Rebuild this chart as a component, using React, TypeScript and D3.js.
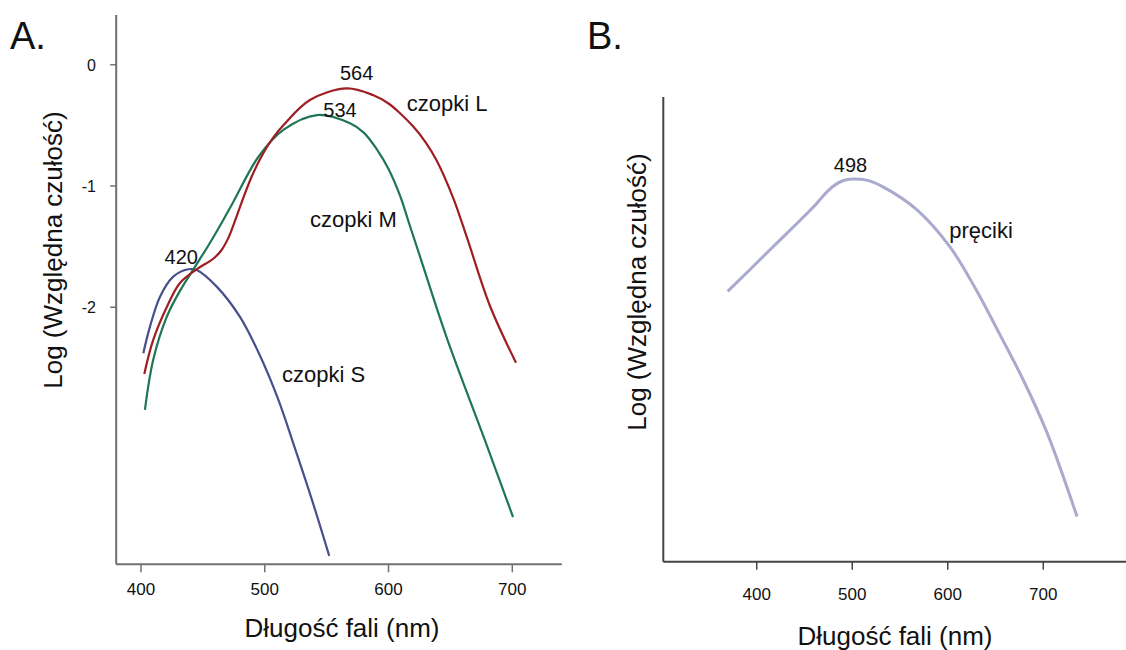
import React from 'react';
import * as d3 from 'd3';

const FONT = '"Liberation Sans", Arial, Helvetica, sans-serif';

// ---------- Data ----------
const xTicksA = [400, 500, 600, 700];
const yTicksA = [0, -1, -2];
const xTicksB = [400, 500, 600, 700];

// L cones (czopki L)
const coneLWavelength = [402.7, 409.9, 420.8, 431.5, 445, 458.4, 465, 471, 477.3, 483, 490, 498.8, 507, 515, 536.5, 566.2, 587.4, 600, 609.3, 620, 630, 638.9, 652.3, 663.2, 682, 703];
const coneLLog = [-2.55, -2.27, -2.0, -1.8, -1.687, -1.6, -1.53, -1.42, -1.25, -1.09, -0.91, -0.73, -0.6, -0.5, -0.291, -0.195, -0.25, -0.32, -0.4, -0.51, -0.64, -0.79, -1.1, -1.42, -1.99, -2.458];

// M cones (czopki M)
const coneMWavelength = [403.2, 409.9, 420.8, 431.5, 445, 455.7, 466.5, 474.6, 494.8, 515, 542.2, 568.9, 580, 590.7, 600, 609.3, 617, 625.4, 647, 678, 700.6];
const coneMLog = [-2.847, -2.434, -2.08, -1.865, -1.645, -1.47, -1.28, -1.132, -0.761, -0.538, -0.415, -0.483, -0.56, -0.7, -0.86, -1.08, -1.32, -1.58, -2.25, -3.1, -3.73];

// S cones (czopki S)
const coneSWavelength = [401.9, 407.3, 415.4, 426.1, 438.2, 445, 461.2, 480, 496.2, 510.9, 523, 537.9, 552.1];
const coneSLog = [-2.379, -2.16, -1.913, -1.748, -1.687, -1.693, -1.83, -2.08, -2.4, -2.76, -3.12, -3.58, -4.05];

// Rods (pręciki)
const rodWavelength = [369.6, 414.5, 459.3, 470, 480, 490, 500.7, 515, 532.2, 567.8, 602.3, 630, 654.7, 678.8, 703.9, 735.3];
const rodLog = [-1.04, -0.695, -0.35, -0.255, -0.18, -0.135, -0.12, -0.13, -0.185, -0.373, -0.676, -1.03, -1.395, -1.76, -2.195, -2.88];

const peakLabelsA = ['564', '534', '420'];
const seriesLabelsA = ['czopki L', 'czopki M', 'czopki S'];
const peakLabelB = '498';
const seriesLabelB = 'pręciki';

const COL_L = '#9e1e22';
const COL_M = '#1f7654';
const COL_S = '#48508c';
const COL_ROD = '#a9aacd';

type P = [number, number];
const zip = (xs: number[], ys: number[]): P[] => xs.map((x, i) => [x, ys[i]]);

export default function App() {
  // Panel A scales
  const xA = d3.scaleLinear().domain([380, 740]).range([116.2, 561.8]);
  const yA = d3.scaleLinear().domain([-4.12, 0.41]).range([564.3, 15]);
  // Panel B scales
  const xB = d3.scaleLinear().domain([302.2, 786.6]).range([663.3, 1126]);
  const yB = d3.scaleLinear().domain([-3.25, 0.55]).range([561.7, 97]);

  const lineA = d3
    .line<P>()
    .x((d) => xA(d[0]))
    .y((d) => yA(d[1]))
    .curve(d3.curveCatmullRom.alpha(0.5));
  const lineB = d3
    .line<P>()
    .x((d) => xB(d[0]))
    .y((d) => yB(d[1]))
    .curve(d3.curveCatmullRom.alpha(0.5));

  const axisA = '#707070';
  const axisB = '#444444';

  return (
    <svg
      width={1126}
      height={650}
      style={{ position: 'absolute', left: 0, top: 0, background: '#fff' }}
      fontFamily={FONT}
    >
      <rect x={0} y={0} width={1126} height={650} fill="#fff" />

      {/* ---------- Panel A ---------- */}
      <text x={10} y={49} fontSize={38} fill="#111">A.</text>

      <line x1={xA(380)} x2={xA(380)} y1={yA(0.41)} y2={yA(-4.12)} stroke={axisA} strokeWidth={2} />
      <line x1={xA(380)} x2={xA(740)} y1={yA(-4.12)} y2={yA(-4.12)} stroke={axisA} strokeWidth={2} />

      {yTicksA.map((t) => (
        <g key={'ya' + t}>
          <line x1={xA(380) - 6} x2={xA(380)} y1={yA(t)} y2={yA(t)} stroke={axisA} strokeWidth={1.5} />
          <text x={96} y={yA(t) + 6} fontSize={16} textAnchor="end" fill="#111">
            {t === 0 ? '0' : String(t)}
          </text>
        </g>
      ))}
      {xTicksA.map((t) => (
        <g key={'xa' + t}>
          <line x1={xA(t)} x2={xA(t)} y1={yA(-4.12)} y2={yA(-4.12) + 8} stroke={axisA} strokeWidth={1.5} />
          <text x={xA(t)} y={595} fontSize={17} textAnchor="middle" fill="#111">
            {t}
          </text>
        </g>
      ))}

      <text x={342} y={636.5} fontSize={26} textAnchor="middle" fill="#111">
        Długość fali (nm)
      </text>
      <text transform={`translate(62,250) rotate(-90)`} fontSize={26} textAnchor="middle" fill="#111">
        Log (Względna czułość)
      </text>

      <path d={lineA(zip(coneSWavelength, coneSLog)) || ''} fill="none" stroke={COL_S} strokeWidth={2.2} />
      <path d={lineA(zip(coneMWavelength, coneMLog)) || ''} fill="none" stroke={COL_M} strokeWidth={2.2} />
      <path d={lineA(zip(coneLWavelength, coneLLog)) || ''} fill="none" stroke={COL_L} strokeWidth={2.2} />

      <text x={xA(574.3)} y={yA(-0.13)} fontSize={20} textAnchor="middle" fill="#111">{peakLabelsA[0]}</text>
      <text x={xA(560.8)} y={yA(-0.431)} fontSize={20} textAnchor="middle" fill="#111">{peakLabelsA[1]}</text>
      <text x={xA(432.6)} y={yA(-1.647)} fontSize={20} textAnchor="middle" fill="#111">{peakLabelsA[2]}</text>
      <text x={xA(614.7)} y={yA(-0.378)} fontSize={22} fill="#111">{seriesLabelsA[0]}</text>
      <text x={xA(536.5)} y={yA(-1.338)} fontSize={22} fill="#111">{seriesLabelsA[1]}</text>
      <text x={xA(513.9)} y={yA(-2.62)} fontSize={22} fill="#111">{seriesLabelsA[2]}</text>

      {/* ---------- Panel B ---------- */}
      <text x={587} y={49} fontSize={38} fill="#111">B.</text>

      <line x1={xB(302.2)} x2={xB(302.2)} y1={yB(0.55)} y2={yB(-3.25)} stroke={axisB} strokeWidth={2} />
      <line x1={xB(302.2)} x2={xB(786.6)} y1={yB(-3.25)} y2={yB(-3.25)} stroke={axisB} strokeWidth={2} />

      {xTicksB.map((t) => (
        <g key={'xb' + t}>
          <line x1={xB(t)} x2={xB(t)} y1={yB(-3.25)} y2={yB(-3.25) + 8} stroke={axisB} strokeWidth={1.5} />
          <text x={xB(t)} y={600} fontSize={17} textAnchor="middle" fill="#111">
            {t}
          </text>
        </g>
      ))}

      <text x={895} y={645} fontSize={26} textAnchor="middle" fill="#111">
        Długość fali (nm)
      </text>
      <text transform={`translate(646,292) rotate(-90)`} fontSize={26} textAnchor="middle" fill="#111">
        Log (Względna czułość)
      </text>

      <path d={lineB(zip(rodWavelength, rodLog)) || ''} fill="none" stroke={COL_ROD} strokeWidth={3} />

      <text x={xB(498.2)} y={yB(-0.063)} fontSize={20} textAnchor="middle" fill="#111">{peakLabelB}</text>
      <text x={xB(601.6)} y={yB(-0.606)} fontSize={22} fill="#111">{seriesLabelB}</text>
    </svg>
  );
}
